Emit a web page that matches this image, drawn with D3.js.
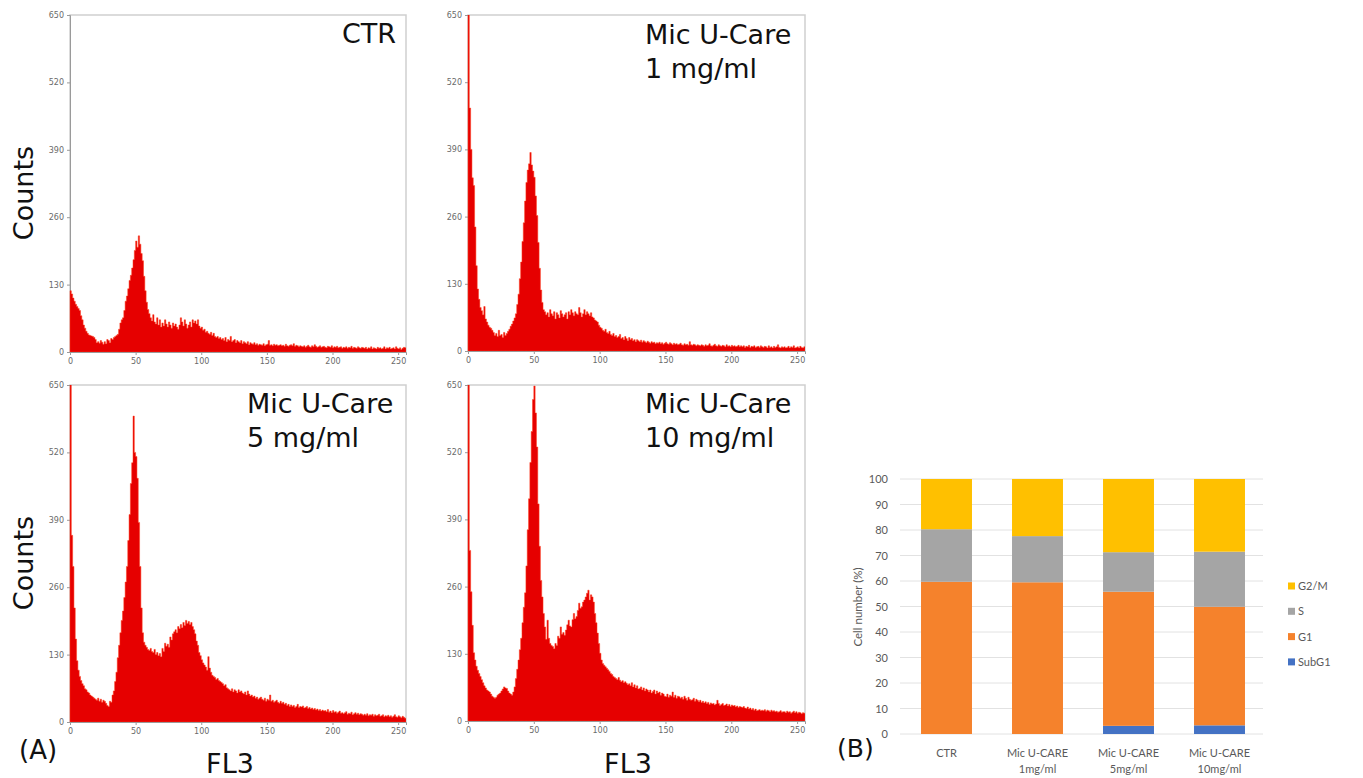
<!DOCTYPE html>
<html>
<head>
<meta charset="utf-8">
<script src="https://cdn.jsdelivr.net/npm/d3@7"></script>
<style>
  body { margin: 0; background: #fff; }
  svg { display: block; }
</style>
</head>
<body>
<div id="container"></div>
<script>
// ---- histogram data (FL3 channel, 256 bins, counts) ----
const histTicksY = [0, 130, 260, 390, 520, 650];
const histTicksX = [0, 50, 100, 150, 200, 250];

const ctrCounts = [
  118,112,104,98,92,88,84,80,70,62,52,46,40,36,33,32,
  31,30,28,24,18,20,17,22,19,15,20,16,24,22,18,26,
  24,28,30,32,34,44,56,62,66,80,98,108,122,138,148,162,
  178,196,214,202,224,208,190,176,146,118,96,82,74,66,60,72,
  58,54,66,52,62,48,56,50,62,54,48,58,52,46,56,50,
  54,48,44,52,66,58,50,62,54,46,52,58,48,62,56,60,
  54,62,50,46,48,42,44,38,40,36,34,38,32,36,30,28,
  30,26,28,24,26,22,28,20,24,22,30,20,22,24,18,22,
  20,18,22,16,20,18,16,20,14,18,16,15,18,14,16,13,
  15,14,13,16,12,14,15,22,13,14,12,15,13,14,12,13,
  14,12,13,11,15,12,11,13,14,12,16,11,13,12,10,12,
  11,10,12,9,11,13,10,9,12,10,14,11,9,10,12,9,
  10,11,9,8,11,10,9,12,8,10,9,11,8,9,10,7,
  9,8,10,7,9,8,11,7,9,8,7,10,8,7,9,8,
  7,9,6,8,7,10,6,8,7,6,9,7,8,6,7,10,
  6,8,7,9,6,7,8,6,10,7,6,8,5,7,9,8
];
const mic1Counts = [
  660,470,390,335,320,240,165,120,100,84,78,70,86,62,56,50,
  46,44,40,36,30,34,28,40,30,32,26,36,30,34,38,42,
  48,52,58,64,72,90,110,140,172,212,248,290,326,350,362,384,
  360,348,336,300,262,210,160,118,94,80,76,70,74,66,80,72,
  68,76,62,74,70,64,78,72,66,70,74,62,76,70,80,74,
  68,76,72,70,84,74,66,72,80,70,76,72,68,74,66,64,
  60,58,56,50,46,44,40,38,42,36,34,38,32,30,34,28,
  30,26,28,32,24,26,22,28,24,20,26,22,24,20,22,18,
  22,20,18,21,17,20,18,16,19,17,15,18,16,17,14,16,
  15,17,14,16,13,15,17,14,13,16,14,12,15,13,14,12,
  13,15,12,11,14,12,13,11,18,12,11,13,12,10,12,11,
  10,12,11,9,12,10,11,14,10,9,11,13,10,9,12,10,
  9,11,10,8,12,9,10,8,11,9,10,8,9,11,8,10,
  8,10,7,9,8,11,7,9,8,10,7,8,9,7,10,8,
  7,9,8,6,10,7,8,6,9,7,8,12,7,6,8,7,
  8,6,7,9,6,8,7,10,6,7,8,6,9,7,6,8
];
const mic5Counts = [
  660,360,300,220,160,118,100,88,80,74,70,64,62,58,56,52,
  50,48,46,44,42,46,40,44,38,42,40,36,32,30,40,38,
  52,60,78,96,124,148,172,196,214,240,270,300,350,400,460,500,
  590,520,512,470,385,300,220,172,154,148,144,140,138,142,136,134,
  140,130,134,128,132,126,142,136,152,146,150,144,164,158,170,174,
  178,172,184,180,188,182,192,186,196,190,194,188,192,184,178,170,
  156,148,134,128,120,114,110,106,100,126,104,96,90,88,86,82,
  84,80,78,76,74,70,72,66,64,62,60,64,58,62,60,56,
  62,58,60,56,54,58,52,60,54,50,52,48,50,46,48,44,
  46,48,44,42,46,40,44,42,52,40,42,38,40,42,38,36,
  40,36,38,34,36,32,34,30,33,30,32,28,30,34,28,30,
  29,31,27,28,30,26,28,25,27,24,26,23,25,22,24,21,
  23,21,22,20,24,19,21,18,22,19,20,17,19,21,17,18,
  16,18,20,15,17,16,19,14,16,18,15,17,14,16,15,13,
  15,13,16,12,14,13,15,11,14,12,13,15,11,12,14,10,
  12,11,13,10,12,9,11,14,10,9,12,10,8,11,9,7
];
const mic10Counts = [
  660,330,250,185,132,118,106,98,92,86,80,74,68,64,60,58,
  56,52,48,46,44,46,50,52,54,58,62,66,64,63,58,54,
  52,50,56,66,82,100,118,138,160,190,220,248,300,370,430,500,
  560,622,648,596,530,420,338,272,240,208,182,158,195,160,150,146,
  144,140,150,146,164,160,182,168,171,166,176,186,195,184,182,196,
  208,198,202,214,228,218,221,230,234,240,247,253,234,244,240,230,
  208,190,170,150,131,118,111,108,105,102,99,96,92,90,86,84,
  82,80,84,79,76,78,74,76,73,70,72,68,74,66,70,64,
  68,62,63,66,60,64,58,62,60,56,60,54,57,60,52,58,
  54,56,50,54,52,48,47,52,46,50,48,56,46,50,44,48,
  47,44,46,42,48,44,40,46,42,40,41,44,38,42,40,37,
  40,36,38,35,37,34,36,32,35,33,34,31,33,40,34,30,
  32,34,30,31,33,29,32,28,31,29,30,27,29,26,28,27,
  26,28,25,24,27,23,25,22,24,21,23,20,21,22,20,21,
  20,22,19,21,20,18,21,19,20,18,19,17,18,20,17,18,
  18,16,19,17,18,15,17,19,16,18,15,17,16,14,16,15
];

// ---- bar chart data (cell cycle phases, %) ----
const barCategories = [["CTR"], ["Mic U-CARE", "1mg/ml"], ["Mic U-CARE", "5mg/ml"], ["Mic U-CARE", "10mg/ml"]];
const phases = ["SubG1", "G1", "S", "G2/M"];
const subG1 = [0, 0, 3.2, 3.4];
const g1 = [59.7, 59.5, 52.6, 46.5];
const sPhase = [20.6, 18.1, 15.5, 21.6];
const g2m = [19.7, 22.4, 28.7, 28.5];
const barTicks = [0, 10, 20, 30, 40, 50, 60, 70, 80, 90, 100];

const W = 1363, H = 778;
const svg = d3.select('#container').append('svg')
  .attr('width', W).attr('height', H)
  .style('background', '#fff');

const sans = "'DejaVu Sans', Verdana, sans-serif";

const panels = [
  { counts: ctrCounts,   title: ['CTR'],                  x0: 70,  x1: 406, y0: 15,  y1: 352, tx: 342, ty: 43 },
  { counts: mic1Counts,  title: ['Mic U-Care', '1 mg/ml'], x0: 468, x1: 805, y0: 15,  y1: 351, tx: 645, ty: 44 },
  { counts: mic5Counts,  title: ['Mic U-Care', '5 mg/ml'], x0: 70,  x1: 406, y0: 385, y1: 722, tx: 247, ty: 413 },
  { counts: mic10Counts, title: ['Mic U-Care', '10 mg/ml'], x0: 468, x1: 805, y0: 385, y1: 721, tx: 645, ty: 413 }
];

panels.forEach((p, k) => {
  let x = d3.scaleLinear().domain([0, 256]).range([p.x0, p.x1]);
  let y = d3.scaleLinear().domain([0, 650]).range([p.y1, p.y0]);
  let g = svg.append('g');

  g.append('clipPath').attr('id', 'clip' + k)
    .append('rect')
    .attr('x', p.x0 - 1).attr('y', p.y0)
    .attr('width', p.x1 - p.x0 + 1).attr('height', p.y1 - p.y0);

  // frame
  g.append('rect')
    .attr('x', p.x0).attr('y', p.y0)
    .attr('width', p.x1 - p.x0).attr('height', p.y1 - p.y0)
    .attr('fill', '#fff')
    .attr('stroke', '#cfcfcf')
    .attr('stroke-width', 1.5);

  let yAxis = g.append('g')
    .attr('transform', 'translate(' + p.x0 + ',0)')
    .call(d3.axisLeft(y).tickValues(histTicksY).tickSize(3).tickPadding(3));
  let xAxis = g.append('g')
    .attr('transform', 'translate(0,' + p.y1 + ')')
    .call(d3.axisBottom(x).tickValues(histTicksX).tickSize(3).tickPadding(3));
  [yAxis, xAxis].forEach(a => {
    a.select('.domain').attr('stroke', '#9a9a9a');
    a.selectAll('.tick line').attr('stroke', '#9a9a9a');
    a.selectAll('text').attr('fill', '#6a6a6a').style('font-size', '8px').style('font-family', sans);
  });

  let pts = p.counts.map((c, i) => [i, c]);
  pts.push([256, p.counts[255]]);
  let area = d3.area()
    .curve(d3.curveStepAfter)
    .x(d => x(d[0]))
    .y0(y(0))
    .y1(d => y(d[1]));

  g.append('path')
    .datum(pts)
    .attr('clip-path', 'url(#clip' + k + ')')
    .attr('d', area)
    .attr('fill', '#e60000')
    .attr('stroke', '#ff3a1a')
    .attr('stroke-width', 0.5);

  let t = g.append('text')
    .attr('x', p.tx).attr('y', p.ty)
    .style('font-family', sans).style('font-size', '27px').attr('fill', '#111');
  p.title.forEach((line, j) => {
    t.append('tspan').attr('x', p.tx).attr('y', p.ty + j * 34).text(line);
  });
});

// shared axis labels
[193, 563].forEach(cy => {
  svg.append('text')
    .attr('transform', 'translate(33,' + cy + ') rotate(-90)')
    .attr('text-anchor', 'middle')
    .style('font-family', sans).style('font-size', '27px').attr('fill', '#111')
    .text('Counts');
});
[230, 628].forEach(cx => {
  svg.append('text')
    .attr('x', cx).attr('y', 773)
    .attr('text-anchor', 'middle')
    .style('font-family', sans).style('font-size', '27px').attr('fill', '#111')
    .text('FL3');
});
svg.append('text').attr('x', 19).attr('y', 759)
  .style('font-family', sans).style('font-size', '26px').attr('fill', '#111').text('(A)');
svg.append('text').attr('x', 837).attr('y', 757)
  .style('font-family', sans).style('font-size', '25px').attr('fill', '#111').text('(B)');

// ---- stacked bar chart ----
const lato = "Lato, 'Noto Sans', sans-serif";
const table = barCategories.map((c, i) => ({
  key: i, 'SubG1': subG1[i], 'G1': g1[i], 'S': sPhase[i], 'G2/M': g2m[i]
}));
const colors = { 'SubG1': '#4472c4', 'G1': '#f5822c', 'S': '#a5a5a5', 'G2/M': '#ffc000' };

const bx = d3.scaleBand().domain(d3.range(barCategories.length)).range([901, 1265]).paddingInner(0.44).paddingOuter(0.22);
const by = d3.scaleLinear().domain([0, 100]).range([734, 479]);

const bg = svg.append('g');
bg.selectAll('line.grid').data(barTicks).enter().append('line')
  .attr('class', 'grid')
  .attr('x1', 900).attr('x2', 1263)
  .attr('y1', d => by(d)).attr('y2', d => by(d))
  .attr('stroke', '#e2e2e2').attr('stroke-width', 1);

const stacked = d3.stack().keys(phases)(table);
bg.selectAll('g.layer').data(stacked).enter().append('g')
  .attr('class', 'layer')
  .attr('fill', d => colors[d.key])
  .selectAll('rect').data(d => d).enter().append('rect')
  .attr('x', d => bx(d.data.key))
  .attr('width', bx.bandwidth())
  .attr('y', d => by(d[1]))
  .attr('height', d => by(d[0]) - by(d[1]));

const bAxis = bg.append('g')
  .attr('transform', 'translate(900,0)')
  .call(d3.axisLeft(by).tickValues(barTicks).tickSize(0).tickPadding(12));
bAxis.select('.domain').remove();
bAxis.selectAll('text').attr('fill', '#595959').style('font-size', '11px').style('font-family', lato);

bg.append('text')
  .attr('transform', 'translate(862,607) rotate(-90)')
  .attr('text-anchor', 'middle')
  .style('font-family', lato).style('font-size', '11.5px').attr('fill', '#595959')
  .text('Cell number (%)');

barCategories.forEach((lines, i) => {
  let cx = bx(i) + bx.bandwidth() / 2;
  lines.forEach((line, j) => {
    bg.append('text')
      .attr('x', cx).attr('y', 757 + j * 16)
      .attr('text-anchor', 'middle')
      .style('font-family', lato).style('font-size', '11px').attr('fill', '#595959')
      .text(line);
  });
});

// legend, top to bottom: G2/M, S, G1, SubG1
const legendKeys = phases.slice().reverse();
const lg = bg.selectAll('g.leg').data(legendKeys).enter().append('g')
  .attr('class', 'leg')
  .attr('transform', (d, i) => 'translate(1288,' + (586 + i * 25.3) + ')');
lg.append('rect').attr('x', 0).attr('y', -3.5).attr('width', 7).attr('height', 7)
  .attr('fill', d => colors[d]);
lg.append('text').attr('x', 10).attr('y', 4)
  .style('font-family', lato).style('font-size', '11px').attr('fill', '#595959')
  .text(d => d);
</script>
</body>
</html>
